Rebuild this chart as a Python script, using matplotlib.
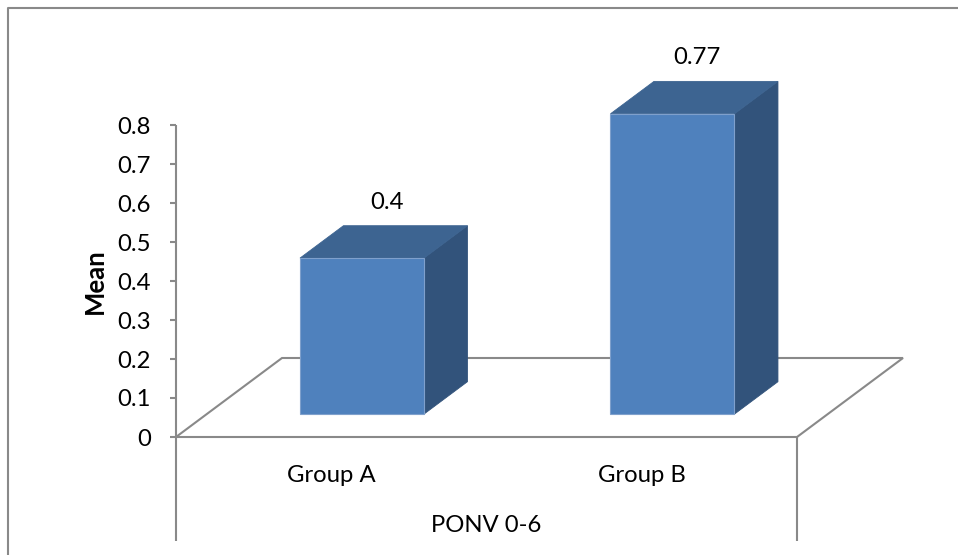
import matplotlib
matplotlib.use("Agg")
import matplotlib.pyplot as plt
from matplotlib.patches import Polygon
from matplotlib.lines import Line2D

# ---- data ----
categories = ["Group A", "Group B"]
values = [0.4, 0.77]
y_ticks = [0, 0.1, 0.2, 0.3, 0.4, 0.5, 0.6, 0.7, 0.8]
y_label = "Mean"
x_title = "PONV 0-6"

# ---- figure / layout ----
W, H = 958, 555
fig = plt.figure(figsize=(W / 100, H / 100), dpi=100)
ax = fig.add_axes([0, 0, 1, 1])
ax.set_axis_off()

# pixel geometry of the front plane of the floor
x0_px, x1_px = 176.0, 797.0          # front-left / front-right corners
y0_px = 437.0                        # value 0 on the front plane (row from top)
px_per_val = 390.0                   # pixels per 1.0 of value
n = len(categories)
px_per_cat = (x1_px - x0_px) / n

ax.set_xlim(-x0_px / px_per_cat, (W - x0_px) / px_per_cat)
ax.set_ylim(-(H - y0_px) / px_per_val, y0_px / px_per_val)

# depth of the floor, in data units
DX = 106.0 / px_per_cat
DY = 79.0 / px_per_val
d_front, d_back = 0.29, 0.70         # bar depth span within the floor
bar_w = 124.0 / px_per_cat

gray = "#898989"
font = "Lato"
fs = 17.2

# floor outline
floor = Polygon([(0, 0), (n, 0), (n + DX, DY), (DX, DY)], closed=True,
                facecolor="white", edgecolor=gray, lw=1.5, zorder=1)
ax.add_patch(floor)

# value axis line + ticks
ax.plot([0, 0], [0, y_ticks[-1]], color=gray, lw=1.5, zorder=2, solid_capstyle="butt")
tick_len = 6.0 / px_per_cat
for t in y_ticks:
    ax.plot([-tick_len, 0], [t, t], color=gray, lw=1.5, zorder=2, solid_capstyle="butt")
    ax.text(-25.0 / px_per_cat, t, f"{t:g}", ha="right", va="center_baseline",
            fontsize=fs, family=font, color="black")

# category dividers below the floor
drop = -(541.0 - y0_px) / px_per_val
for xv in (0, n):
    ax.plot([xv, xv], [0, drop], color=gray, lw=1.5, zorder=2, solid_capstyle="butt")

# 3-D bars
front_c = "#4F81BD"
top_c = "#3D6491"
side_c = "#32537B"
edge_c = "#7FA0CC"
for i, v in enumerate(values):
    c = i + 0.5
    xl, xr = c - bar_w / 2, c + bar_w / 2
    fx, fy = d_front * DX, d_front * DY
    bx, by = d_back * DX, d_back * DY
    side = Polygon([(xr + fx, fy), (xr + fx, v + fy), (xr + bx, v + by), (xr + bx, by)],
                   closed=True, facecolor=side_c, edgecolor=side_c, lw=0.6, zorder=3)
    top = Polygon([(xl + fx, v + fy), (xr + fx, v + fy), (xr + bx, v + by), (xl + bx, v + by)],
                  closed=True, facecolor=top_c, edgecolor=top_c, lw=0.6, zorder=3)
    front = Polygon([(xl + fx, fy), (xr + fx, fy), (xr + fx, v + fy), (xl + fx, v + fy)],
                    closed=True, facecolor=front_c, edgecolor=edge_c, lw=0.8, zorder=4)
    for p in (side, top, front):
        ax.add_patch(p)
    # value label above the bar
    ax.text(c + 55.5 / px_per_cat, v + by + 17.0 / px_per_val, f"{v:g}",
            ha="center", va="baseline", fontsize=fs, family=font, color="black")

# category labels
for i, name in enumerate(categories):
    ax.text(i + 0.5, -45.0 / px_per_val, name, ha="center", va="baseline",
            fontsize=fs, family=font, color="black")

# axis titles
ax.text(n / 2, -(531.5 - y0_px) / px_per_val, x_title, ha="center", va="baseline",
        fontsize=fs, family=font, color="black")
ax.text(-81.0 / px_per_cat, 0.4, y_label, ha="center", va="center", rotation=90,
        fontsize=18.5, family=font, fontweight="bold", color="black")

# chart area border (left and top edges visible)
bx0, by0 = 8.0 / W, 1 - 8.0 / H
fig.add_artist(Line2D([bx0, bx0, 1.0], [0.0, by0, by0], transform=fig.transFigure,
                      color=gray, lw=1.5))

fig.savefig("out.png", dpi=100, facecolor="white")
